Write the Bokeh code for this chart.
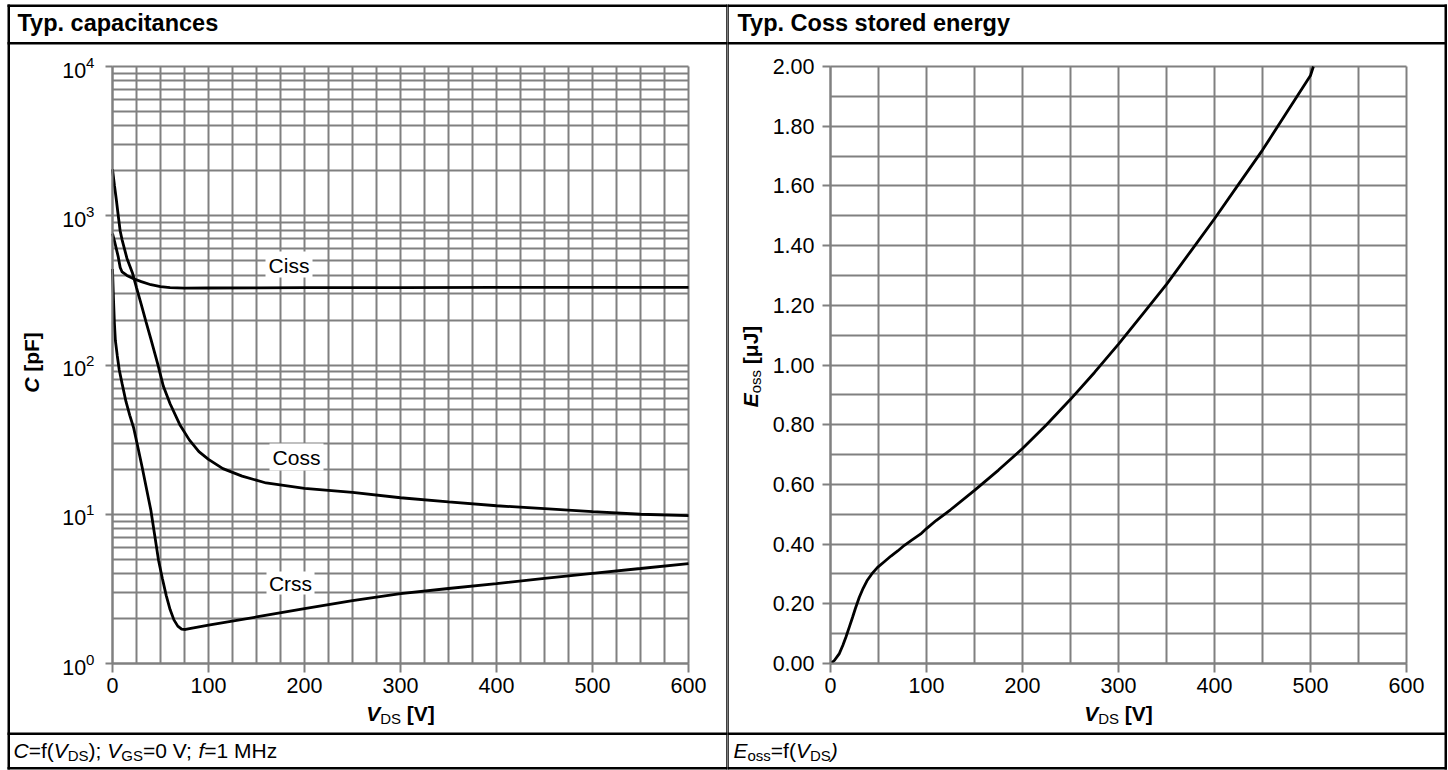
import math
from bokeh.plotting import figure
from bokeh.layouts import row
from bokeh.models import (Range1d, LinearScale, FixedTicker, Label, BoxAnnotation,
                          PrintfTickFormatter)
from bokeh.embed import file_html
from bokeh.resources import INLINE

# ---------------- data ----------------
vds_ciss = [0, 2, 4, 6, 8, 10, 15, 22, 30, 40, 50, 60, 75, 100, 150, 200, 300, 400, 500, 600]
ciss_pf = [760, 680, 600, 530, 450, 420, 398, 378, 362, 345, 335, 330, 327, 328, 329, 330, 330, 331, 331, 331]

vds_coss = [0, 2, 4, 6, 8, 10, 15, 21, 25, 30, 35, 40, 47, 53, 60, 70, 80, 90, 100, 115, 135,
            160, 200, 250, 300, 350, 400, 450, 500, 550, 600]
coss_pf = [2050, 1600, 1280, 1000, 790, 690, 520, 410, 330, 254, 194, 149, 102, 72, 55, 40, 31.5,
           26.3, 23.3, 20.2, 18.0, 16.2, 14.9, 14.0, 12.9, 12.1, 11.4, 10.9, 10.4, 10.0, 9.8]

vds_crss = [0, 1, 2, 3, 5, 7, 10, 14, 18, 22, 26, 31, 36, 40, 44, 48, 52, 56, 60, 64, 68, 72, 76,
            100, 150, 200, 250, 300, 350, 400, 450, 500, 550, 600]
crss_pf = [440, 280, 190, 146, 115, 93, 75, 57, 46, 38, 29, 20.5, 14.2, 10.6, 7.2, 4.9, 3.7, 2.85,
           2.3, 1.96, 1.78, 1.70, 1.69, 1.81, 2.05, 2.33, 2.64, 2.94, 3.18, 3.43, 3.72, 4.02, 4.33, 4.67]

vds_e = [0, 4, 9, 13, 16, 20, 23, 26, 30, 34, 38, 43, 49, 56, 63, 70, 77, 85, 94, 100, 110, 125,
         150, 175, 200, 225, 250, 275, 300, 325, 350, 375, 400, 425, 450, 475, 500, 503]
eoss_uj = [0, 0.010, 0.032, 0.062, 0.088, 0.126, 0.155, 0.185, 0.222, 0.252, 0.277, 0.300, 0.322,
           0.341, 0.360, 0.377, 0.396, 0.414, 0.434, 0.452, 0.479, 0.515, 0.58, 0.648, 0.72, 0.80,
           0.885, 0.975, 1.07, 1.17, 1.27, 1.38, 1.49, 1.605, 1.72, 1.845, 1.97, 2.0]

x_ticks = [0, 100, 200, 300, 400, 500, 600]
x_grid_left = list(range(0, 601, 25))
x_grid_right = list(range(0, 601, 50))
c_ticks = [1, 10, 100, 1000, 10000]
c_grid = [k * 10 ** n for n in range(4) for k in range(1, 10)] + [10000]
e_ticks = [round(0.2 * i, 1) for i in range(11)]
e_grid = [round(0.1 * i, 1) for i in range(21)]

curve_names = ["Ciss", "Coss", "Crss"]
titles = ["Typ. capacitances", "Typ. Coss stored energy"]

# ---------------- layout / style ----------------
FONT = "Liberation Sans"
GRID = "#808080"
H = 770
LW, RW = 727, 720           # widths of the two panels
PT, PB = 66, 663            # plot area top / bottom (pixels)
L_PL, L_PR = 112, 688       # left plot area x
R_PL, R_PR = 830, 1406      # right plot area x (page)
TICK_PX = "21.5px"
SUB = 5                     # subscript shift

REG = {' ': 278, '(': 333, ')': 333, ';': 278, '=': 584, '0': 556, '1': 556, 'C': 722, 'D': 722,
       'E': 667, 'G': 778, 'H': 722, 'M': 833, 'S': 667, 'V': 667, 'f': 278, 'z': 500, 'o': 556,
       's': 500, '[': 278, ']': 278, 'p': 556, 'F': 611, 'J': 500, 'μ': 576}
BOLD = {' ': 278, '[': 333, ']': 333, 'V': 667, 'C': 722, 'p': 611, 'F': 611, 'μ': 611, 'J': 556,
        'E': 667, 'D': 722, 'S': 667, 'o': 611, 's': 556}


def tw(s, size, bold):
    tab = BOLD if bold else REG
    return sum(tab.get(c, 556) for c in s) * size / 1000.0


def total(pieces):
    return sum(tw(t, s, "bold" in st) for t, s, st, o in pieces)


def put(p, pieces, x, y, rot=False):
    for text, size, style, off in pieces:
        bold = "bold" in style
        lead = len(text) - len(text.lstrip(" "))
        adv = tw(" " * lead, size, bold)
        if rot:
            y -= adv
        else:
            x += adv
        body = text.strip(" ")
        kw = dict(text=body, x_range_name="px", y_range_name="py", text_font=FONT,
                  text_font_size=f"{size}px", text_font_style=style, text_color="black",
                  text_align="left", text_baseline="middle")
        if body:
            if rot:
                p.add_layout(Label(x=x + off, y=y, angle=math.pi / 2, **kw))
            else:
                p.add_layout(Label(x=x, y=y + off, **kw))
        w = tw(text.lstrip(" "), size, bold)
        if rot:
            y -= w
        else:
            x += w


def box(p, l, r, t, b, color):
    p.add_layout(BoxAnnotation(left=l, right=r, top=t, bottom=b, x_range_name="px",
                               y_range_name="py", fill_color=color, fill_alpha=1.0,
                               line_color=None))


def style(p, xfix, yfix, xb, yb, tick_out_y, standoff_y):
    p.title.visible = False
    p.outline_line_color = None
    p.xaxis[0].fixed_location = xfix
    p.yaxis[0].fixed_location = yfix
    p.xaxis[0].bounds = xb
    p.yaxis[0].bounds = yb
    for ax in (p.xaxis[0], p.yaxis[0]):
        ax.axis_line_color = GRID
        ax.axis_line_width = 2
        ax.major_tick_line_color = GRID
        ax.major_tick_line_width = 2
        ax.major_tick_in = 0
        ax.minor_tick_line_color = None
        ax.major_label_text_font = FONT
        ax.major_label_text_font_size = TICK_PX
        ax.major_label_text_color = "black"
    p.xaxis[0].major_tick_out = 9
    p.yaxis[0].major_tick_out = tick_out_y
    p.xaxis[0].major_label_standoff = 5
    p.yaxis[0].major_label_standoff = standoff_y
    p.xgrid[0].cross_bounds = yb
    p.ygrid[0].cross_bounds = xb
    for g in (p.xgrid[0], p.ygrid[0]):
        g.grid_line_color = GRID
        g.grid_line_width = 2
        g.grid_line_alpha = 1.0


common = dict(height=H, min_border=0, min_border_left=0, min_border_right=0,
              min_border_top=0, min_border_bottom=0, output_backend="svg",
              toolbar_location=None)

# ---------------- left: capacitances ----------------
sx1 = (L_PR - L_PL) / 600.0
dec = (PB - PT) / 4.0
p1 = figure(width=LW, x_range=Range1d(-L_PL / sx1, (LW - L_PL) / sx1),
            y_range=Range1d(10 ** ((PB - H) / dec), 10 ** (PB / dec)), y_axis_type="log",
            extra_x_ranges={"px": Range1d(0, LW)}, extra_y_ranges={"py": Range1d(H, 0)},
            extra_x_scales={"px": LinearScale()}, extra_y_scales={"py": LinearScale()},
            **common)
p1.xaxis.ticker = FixedTicker(ticks=x_ticks, minor_ticks=[])
p1.yaxis.ticker = FixedTicker(ticks=c_ticks, minor_ticks=[])
p1.xgrid.ticker = FixedTicker(ticks=x_grid_left)
p1.ygrid.ticker = FixedTicker(ticks=c_grid)
style(p1, 1, 0, (0, 600), (1, 10000), 7, 11)

# frame lines
box(p1, 7, 9.5, 4, 769, "black")
box(p1, 725.75, 730, 4, 769, "black")
box(p1, 7, 730, 4, 6.5, "black")
box(p1, 7, 730, 766.5, 769, "black")
box(p1, 7, 730, 41.5, 44, "black")
box(p1, 7, 730, 732, 734.5, "black")

p1.line(vds_ciss, ciss_pf, line_color="black", line_width=2.8)
p1.line(vds_coss, coss_pf, line_color="black", line_width=2.8)
p1.line(vds_crss, crss_pf, line_color="black", line_width=2.8)

for name, (bl, br, bt, bb), (lx, ly) in zip(
        curve_names,
        [(265, 312, 251, 277), (269, 323, 443, 470), (266, 314, 571, 594)],
        [(288.5, 265), (296, 457), (290, 583)]):
    box(p1, bl, br, bt, bb, "white")
    p1.add_layout(Label(x=lx, y=ly, text=name, x_range_name="px", y_range_name="py",
                        text_font=FONT, text_font_size="21px", text_color="black",
                        text_align="center", text_baseline="middle"))

put(p1, [(titles[0], 23.5, "bold", 0)], 17, 22.5)
xl = [("V", 21, "bold italic", 0), ("DS", 15, "normal", SUB), (" [V]", 21, "bold", 0)]
put(p1, xl, 400 - total(xl) / 2, 713)
yl1 = [("C", 21, "bold italic", 0), (" [pF]", 21, "bold", 0)]
put(p1, yl1, 31, 362 + total(yl1) / 2, rot=True)
put(p1, [("C", 21, "italic", 0), ("=f(", 21, "normal", 0), ("V", 21, "italic", 0),
         ("DS", 15, "normal", SUB), ("); ", 21, "normal", 0), ("V", 21, "italic", 0),
         ("GS", 15, "normal", SUB), ("=0 V; ", 21, "normal", 0), ("f", 21, "italic", 0),
         ("=1 MHz", 21, "normal", 0)], 13, 750)

# ---------------- right: Eoss ----------------
sx2 = (R_PR - R_PL) / 600.0
sy2 = (PB - PT) / 2.0
off2 = R_PL - LW
p2 = figure(width=RW, x_range=Range1d(-off2 / sx2, (RW - off2) / sx2),
            y_range=Range1d((PB - H) / sy2, PB / sy2),
            extra_x_ranges={"px": Range1d(LW, LW + RW)}, extra_y_ranges={"py": Range1d(H, 0)},
            extra_x_scales={"px": LinearScale()}, extra_y_scales={"py": LinearScale()},
            **common)
p2.xaxis.ticker = FixedTicker(ticks=x_ticks, minor_ticks=[])
p2.yaxis.ticker = FixedTicker(ticks=e_ticks, minor_ticks=[])
p2.yaxis.formatter = PrintfTickFormatter(format="%.2f")
p2.xgrid.ticker = FixedTicker(ticks=x_grid_right)
p2.ygrid.ticker = FixedTicker(ticks=e_grid)
style(p2, 0, 0, (0, 600), (0, 2), 8, 8)

box(p2, 724, 728.25, 4, 769, "black")
box(p2, 1444, 1446.5, 4, 769, "black")
box(p2, 724, 1446.5, 4, 6.5, "black")
box(p2, 724, 1446.5, 766.5, 769, "black")
box(p2, 724, 1446.5, 41.5, 44, "black")
box(p2, 724, 1446.5, 732, 734.5, "black")

p2.line(vds_e, eoss_uj, line_color="black", line_width=2.8)

put(p2, [(titles[1], 23.5, "bold", 0)], 737, 22.5)
put(p2, xl, 1118 - total(xl) / 2, 713)
yl2 = [("E", 21, "bold italic", 0), ("oss", 15, "normal", SUB), (" [μJ]", 21, "bold", 0)]
put(p2, yl2, 750, 366 + total(yl2) / 2, rot=True)
put(p2, [("E", 21, "italic", 0), ("oss", 15, "normal", SUB), ("=f(", 21, "normal", 0),
         ("V", 21, "italic", 0), ("DS", 15, "normal", SUB), (")", 21, "italic", 0)], 733, 750)

layout = row(p1, p2)
open("out.html", "w").write(file_html(layout, INLINE))
